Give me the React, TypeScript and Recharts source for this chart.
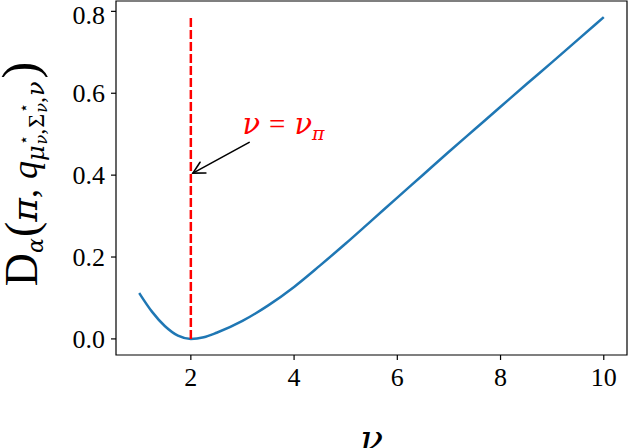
import { LineChart, Line, XAxis, YAxis, ReferenceLine, ReferenceArea, ReferenceDot } from "recharts";

// nu values and the divergence
const NU = [1, 1.25, 1.5, 1.75, 2, 2.25, 2.5, 3, 3.5, 4, 4.5, 5, 5.5, 6, 6.5, 7, 7.5, 8, 8.5, 9, 9.5, 10];
const DIVERGENCE = [
  0.112, 0.066, 0.031, 0.008, 0, 0.004, 0.015, 0.044, 0.082, 0.127, 0.179, 0.233, 0.289, 0.345, 0.401, 0.457,
  0.512, 0.567, 0.622, 0.676, 0.731, 0.786,
];
const X_TICKS = [2, 4, 6, 8, 10];
const Y_TICKS = [0, 0.2, 0.4, 0.6, 0.8];

const NU_PI = 2;
const ANNOT_TEXT = { x: 3, y: 0.5 };
const ARROW_FROM = { x: 3.13, y: 0.48 };
const ARROW_TO = { x: 2.04, y: 0.405 };

const data = NU.map((nu, i) => ({ nu, d: DIVERGENCE[i] }));

const yTop = Math.max(...DIVERGENCE);
const yPad = 0.05 * yTop;
const xPad = 0.05 * (NU[NU.length - 1] - NU[0]);
const X_DOMAIN: [number, number] = [NU[0] - xPad, NU[NU.length - 1] + xPad];
const Y_DOMAIN: [number, number] = [-yPad, yTop + yPad];

const FONT = "Liberation Serif, DejaVu Serif, serif";
const GREEK = "DejaVu Serif, serif";

function ArrowShape(props: any) {
  const { x1, y1, x2, y2 } = props;
  const ang = Math.atan2(y2 - y1, x2 - x1);
  const len = 13;
  const spread = (28 * Math.PI) / 180;
  const hx1 = x2 - len * Math.cos(ang - spread);
  const hy1 = y2 - len * Math.sin(ang - spread);
  const hx2 = x2 - len * Math.cos(ang + spread);
  const hy2 = y2 - len * Math.sin(ang + spread);
  return (
    <g stroke="#000" strokeWidth={1.6} fill="none" strokeLinecap="round">
      <line x1={x1} y1={y1} x2={x2} y2={y2} />
      <polyline points={`${hx1},${hy1} ${x2},${y2} ${hx2},${hy2}`} />
    </g>
  );
}

function AnnotText(props: any) {
  const { cx, cy } = props;
  return (
    <text x={cx} y={cy} fill="#ff0000" fontFamily={FONT} fontSize={29}>
      <tspan fontFamily={GREEK} fontStyle="italic">ν</tspan>
      <tspan dx={9}>=</tspan>
      <tspan dx={9} fontFamily={GREEK} fontStyle="italic">ν</tspan>
      <tspan fontFamily={GREEK} fontStyle="italic" fontSize={19} dy={6}>π</tspan>
    </text>
  );
}

function XLabel(props: any) {
  const vb = props.viewBox;
  return (
    <text x={vb.x + vb.width / 2} y={vb.y + vb.height + 3} textAnchor="middle" fontFamily={GREEK} fontSize={38} fontStyle="italic" fill="#000">
      ν
    </text>
  );
}

function YLabel(props: any) {
  const vb = props.viewBox;
  const cx = 37;
  const cy = vb.y + vb.height / 2 - 4;
  return (
    <text
      x={cx}
      y={cy}
      transform={`rotate(-90, ${cx}, ${cy})`}
      textAnchor="middle"
      fontFamily={FONT}
      fontSize={36}
      fill="#000"
    >
      <tspan fontSize={46}>D</tspan>
      <tspan fontFamily={GREEK} fontStyle="italic" fontSize={22} dy={6}>α</tspan>
      <tspan fontSize={46} dy={-6} dx={1}>(</tspan>
      <tspan fontFamily={GREEK} fontStyle="italic">π</tspan>
      <tspan>,</tspan>
      <tspan fontStyle="italic" dx={10}>q</tspan>
      <tspan fontFamily={GREEK} fontStyle="italic" fontSize={24} dy={7}>μ</tspan>
      <tspan fontSize={16} dy={-15} dx={1}>⋆</tspan>
      <tspan fontFamily={GREEK} fontStyle="italic" fontSize={16} dx={-10} dy={18}>ν</tspan>
      <tspan fontSize={24} dy={-3}>,</tspan>
      <tspan fontSize={24} dx={1}>Σ</tspan>
      <tspan fontSize={16} dy={-15} dx={1}>⋆</tspan>
      <tspan fontFamily={GREEK} fontStyle="italic" fontSize={16} dx={-10} dy={18}>ν</tspan>
      <tspan fontSize={24} dy={-3}>,</tspan>
      <tspan fontFamily={GREEK} fontStyle="italic" fontSize={24} dx={1}>ν</tspan>
      <tspan fontSize={50} dy={-7} dx={3}>)</tspan>
    </text>
  );
}

export default function App() {
  return (
    <div style={{ position: "absolute", left: 0, top: 0, width: 630, height: 448, background: "#fff" }}>
      <LineChart width={630} height={448} data={data} margin={{ top: 1, right: 3, bottom: 0, left: 0 }}>
        <XAxis
          dataKey="nu"
          type="number"
          domain={X_DOMAIN}
          ticks={X_TICKS}
          allowDataOverflow
          height={93}
          axisLine={false}
          tickLine={{ stroke: "#000", strokeWidth: 1.2 }}
          tickSize={5}
          tickMargin={8}
          tick={{ fill: "#000", fontSize: 26, fontFamily: FONT }}
          label={{ content: XLabel }}
        />
        <YAxis
          type="number"
          domain={Y_DOMAIN}
          ticks={Y_TICKS}
          allowDataOverflow
          width={116}
          axisLine={false}
          tickLine={{ stroke: "#000", strokeWidth: 1.2 }}
          tickSize={5}
          tickMargin={6}
          tickFormatter={(v: number) => v.toFixed(1)}
          tick={{ fill: "#000", fontSize: 26, fontFamily: FONT }}
          label={{ content: YLabel }}
        />
        <Line
          type="monotone"
          dataKey="d"
          stroke="#1f77b4"
          strokeWidth={2.5}
          dot={false}
          activeDot={false}
          isAnimationActive={false}
        />
        <ReferenceLine
          segment={[
            { x: NU_PI, y: 0 },
            { x: NU_PI, y: yTop },
          ]}
          stroke="#ff0000"
          strokeWidth={2.5}
          strokeDasharray="9 3"
        />
        <ReferenceLine segment={[ARROW_FROM, ARROW_TO]} shape={ArrowShape} />
        <ReferenceDot x={ANNOT_TEXT.x} y={ANNOT_TEXT.y} r={0} shape={AnnotText} />
        <ReferenceArea
          x1={X_DOMAIN[0]}
          x2={X_DOMAIN[1]}
          y1={Y_DOMAIN[0]}
          y2={Y_DOMAIN[1]}
          fill="none"
          fillOpacity={0}
          stroke="#000"
          strokeWidth={1.2}
        />
      </LineChart>
    </div>
  );
}
